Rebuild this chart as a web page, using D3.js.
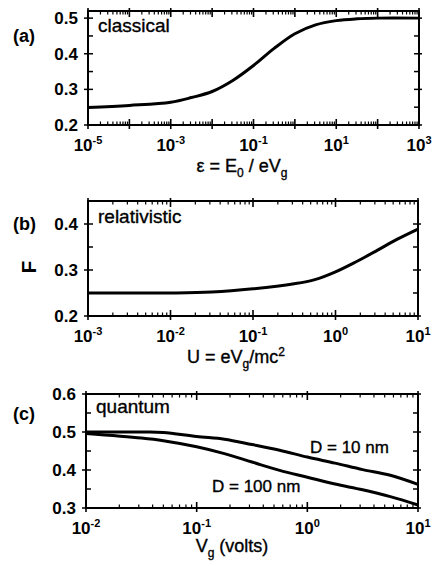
<!DOCTYPE html>
<html>
<head>
<meta charset="utf-8">
<script src="https://cdn.jsdelivr.net/npm/d3@7"></script>
<style>
  html, body { margin: 0; padding: 0; background: #fff; }
  svg { display: block; font-family: "Liberation Sans", Arial, Helvetica, sans-serif; }
  .med { stroke: #000; stroke-width: 0.35px; }
</style>
</head>
<body>
<svg id="chart" width="433" height="566"></svg>
<script>
// panel (a) classical
const classicalEps = [1e-5, 1e-4, 1e-3, 3.16e-3, 1e-2, 3.16e-2, 0.1, 0.316, 1, 3.16, 10, 31.6, 100, 1000];
const classicalF   = [0.249, 0.255, 0.264, 0.277, 0.294, 0.325, 0.367, 0.415, 0.456, 0.481, 0.493, 0.498, 0.5, 0.5];
// panel (b) relativistic
const relU = [1e-3, 1e-2, 3.16e-2, 0.1, 0.316, 0.562, 1, 1.78, 3.16, 5.62, 10];
const relF = [0.25, 0.25, 0.252, 0.259, 0.27, 0.279, 0.296, 0.318, 0.342, 0.367, 0.389];
// panel (c) quantum
const quantV     = [1e-2, 3.16e-2, 5e-2, 0.1, 0.178, 0.316, 0.562, 1, 1.78, 3.16, 5.62, 10];
const quant10nm  = [0.5, 0.5, 0.499, 0.488, 0.481, 0.467, 0.452, 0.434, 0.418, 0.401, 0.386, 0.362];
const quant100nm = [0.496, 0.484, 0.477, 0.461, 0.443, 0.421, 0.399, 0.381, 0.363, 0.348, 0.330, 0.308];

// tick labels
const aXExp = [-5, -3, -1, 1, 3];
const bXExp = [-3, -2, -1, 0, 1];
const cXExp = [-2, -1, 0, 1];
const aYTicks = [0.2, 0.3, 0.4, 0.5];
const bYTicks = [0.2, 0.3, 0.4];
const cYTicks = [0.3, 0.4, 0.5, 0.6];

const svg = d3.select('#chart');

const panel = cfg => {
  let
    x = d3.scaleLog().domain(cfg.xDomain).range([cfg.left, cfg.right]),
    y = d3.scaleLinear().domain(cfg.yDomain).range([cfg.bottom, cfg.top]),
    g = svg.append('g'),
    line = d3.line().x(d => x(d[0])).y(d => y(d[1])).curve(d3.curveCatmullRom.alpha(0.5))
    ;

  // x ticks on bottom and top
  x.ticks().filter(t => t >= cfg.xDomain[0] * 0.999 && t <= cfg.xDomain[1] * 1.001).forEach(t => {
    let major = Math.abs(Math.log10(t) - Math.round(Math.log10(t))) < 1e-6,
        px = x(t);
    g.append('line')
      .attr('x1', px).attr('x2', px)
      .attr('y1', cfg.bottom + (major ? 4 : 0)).attr('y2', cfg.bottom - (major ? 6 : 3.5))
      .attr('stroke', '#000').attr('stroke-width', major ? 1.6 : 1.2);
    g.append('line')
      .attr('x1', px).attr('x2', px)
      .attr('y1', cfg.top - (major ? 3 : 0)).attr('y2', cfg.top + (major ? 6 : 3.5))
      .attr('stroke', '#000').attr('stroke-width', major ? 1.6 : 1.2);
  });

  // y ticks on left and right
  d3.range(cfg.yDomain[0], cfg.yDomain[1] + 1e-6, 0.05).forEach(v => {
    let major = Math.abs(v * 10 - Math.round(v * 10)) < 1e-6,
        py = y(v);
    g.append('line')
      .attr('x1', cfg.left - (major ? 4 : 0)).attr('x2', cfg.left + 5)
      .attr('y1', py).attr('y2', py)
      .attr('stroke', '#000').attr('stroke-width', 1.5);
    g.append('line')
      .attr('x1', cfg.right + (major ? 3 : 0)).attr('x2', cfg.right - 5)
      .attr('y1', py).attr('y2', py)
      .attr('stroke', '#000').attr('stroke-width', 1.5);
  });

  // frame
  g.append('rect')
    .attr('x', cfg.left).attr('y', cfg.top)
    .attr('width', cfg.right - cfg.left).attr('height', cfg.bottom - cfg.top)
    .attr('fill', 'none').attr('stroke', '#000').attr('stroke-width', 2);

  // y tick labels
  g.selectAll('.ylab')
    .data(cfg.yTicks)
    .enter().append('text')
    .attr('class', 'ylab')
    .attr('x', cfg.left - 10)
    .attr('y', d => y(d) + 6)
    .attr('text-anchor', 'end')
    .attr('font-size', 17).attr('font-weight', 'bold')
    .text(d => d.toFixed(1));

  // x tick labels 10^n
  cfg.xExp.forEach(e => {
    let t = g.append('text')
      .attr('x', x(Math.pow(10, e)))
      .attr('y', cfg.bottom + 26)
      .attr('text-anchor', 'middle')
      .attr('font-size', 17).attr('font-weight', 'bold');
    t.append('tspan').text('10');
    t.append('tspan').attr('dy', -7).attr('font-size', 11).text(e);
  });

  // curves
  cfg.series.forEach(s => {
    g.append('path')
      .datum(s.xs.map((d, i) => [d, s.ys[i]]))
      .attr('d', line)
      .attr('fill', 'none').attr('stroke', '#000').attr('stroke-width', 3);
  });

  // in-plot name and panel letter
  g.append('text')
    .attr('class', 'med')
    .attr('x', cfg.left + 10).attr('y', cfg.nameY)
    .attr('font-size', 19)
    .text(cfg.name);
  g.append('text')
    .attr('x', 13).attr('y', cfg.letterY)
    .attr('font-size', 18).attr('font-weight', 'bold')
    .text(cfg.letter);

  return {g, x, y};
};

const a = panel({
  xDomain: [1e-5, 1e3], yDomain: [0.2, 0.52],
  left: 88, right: 419, top: 11, bottom: 125,
  yTicks: aYTicks, xExp: aXExp,
  series: [{xs: classicalEps, ys: classicalF}],
  name: 'classical', nameY: 32, letter: '(a)', letterY: 42
});
const b = panel({
  xDomain: [1e-3, 1e1], yDomain: [0.2, 0.45],
  left: 88, right: 418, top: 201, bottom: 316,
  yTicks: bYTicks, xExp: bXExp,
  series: [{xs: relU, ys: relF}],
  name: 'relativistic', nameY: 223, letter: '(b)', letterY: 230
});
const c = panel({
  xDomain: [1e-2, 1e1], yDomain: [0.3, 0.6],
  left: 86, right: 418, top: 394, bottom: 508,
  yTicks: cYTicks, xExp: cXExp,
  series: [{xs: quantV, ys: quant10nm}, {xs: quantV, ys: quant100nm}],
  name: 'quantum', nameY: 413, letter: '(c)', letterY: 420
});

// axis titles
let ta = a.g.append('text').attr('class', 'med').attr('x', 242).attr('y', 172).attr('text-anchor', 'middle').attr('font-size', 18);
ta.append('tspan').text('ε = E');
ta.append('tspan').attr('dy', 5).attr('font-size', 12).text('0');
ta.append('tspan').attr('dy', -5).text(' / eV');
ta.append('tspan').attr('dy', 5).attr('font-size', 12).text('g');

let tb = b.g.append('text').attr('class', 'med').attr('x', 236).attr('y', 363).attr('text-anchor', 'middle').attr('font-size', 18);
tb.append('tspan').text('U = eV');
tb.append('tspan').attr('dy', 5).attr('font-size', 12).text('g');
tb.append('tspan').attr('dy', -5).text('/mc');
tb.append('tspan').attr('dy', -7).attr('font-size', 12).text('2');

let tc = c.g.append('text').attr('class', 'med').attr('x', 232).attr('y', 552).attr('text-anchor', 'middle').attr('font-size', 18);
tc.append('tspan').text('V');
tc.append('tspan').attr('dy', 5).attr('font-size', 12).text('g');
tc.append('tspan').attr('dy', -5).text(' (volts)');

// F label, rotated
svg.append('text')
  .attr('transform', 'translate(36,267) rotate(-90)')
  .attr('text-anchor', 'middle')
  .attr('font-size', 21).attr('font-weight', 'bold')
  .text('F');

// curve labels in (c)
c.g.append('text').attr('class', 'med').attr('x', 310).attr('y', 453).attr('font-size', 17).text('D = 10 nm');
c.g.append('text').attr('class', 'med').attr('x', 212).attr('y', 492).attr('font-size', 17).text('D = 100 nm');
</script>
</body>
</html>
